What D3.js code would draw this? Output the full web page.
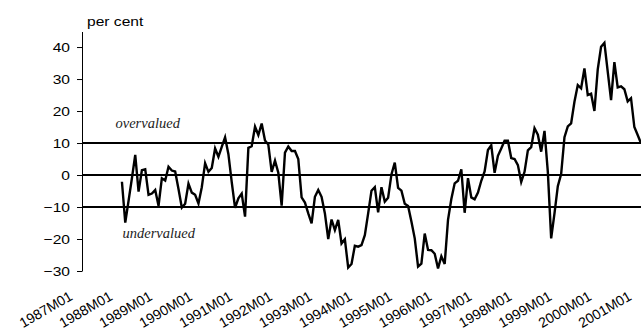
<!DOCTYPE html>
<html><head><meta charset="utf-8">
<script src="https://cdn.jsdelivr.net/npm/d3@7"></script>
<style>
html,body{margin:0;padding:0;background:#fff;}
svg{display:block;}
</style>
</head><body>
<svg id="chart" width="641" height="332"></svg>
<script>
// Data: monthly values, per cent, starting 1988M01
const startMonth = "1988M01";
const values = [
  -2.1, -14.9, -8, -1, 6.3, -5.2, 1.5, 1.8, -6.2, -5.8, -4.7, -9.6,
  -1, -1.7, 2.6, 1.4, 1.1, -4.4, -10.2, -9, -2.7, -5.5, -6.2, -8.9,
  -3.8, 3.7, 1, 2.2, 8.3, 5.7, 8.8, 11.8, 6.5, -2.2, -10.3, -7.3,
  -5.8, -13, 8.5, 9, 15.1, 12.5, 16.1, 10.8, 9.5, 1, 4.5, 0.7,
  -9.6, 7, 8.9, 7.5, 7.5, 5, -7, -8.6, -12, -15.1, -6.8, -4.7,
  -6.8, -12, -20, -13.9, -17.2, -14, -21.4, -20.1, -28.9, -27.8, -22.1, -22.4,
  -21.9, -18.8, -12, -4.9, -3.8, -11.7, -3.8, -8.3, -7.1, 0.2, 3.9, -4,
  -4.9, -9, -9.7, -14.5, -19.8, -28.6, -27.7, -18.3, -23.4, -23.5, -24.6, -29.2,
  -25.4, -27.8, -14, -7.5, -2.6, -1.8, 1.8, -11.8, -1, -7, -7.6, -5.5,
  -1.8, 1.1, 7.8, 9.3, 0.7, 6, 8.3, 10.7, 10.7, 5.3, 5, 3.1,
  -2.2, 1, 7.7, 8.7, 14.6, 12.6, 7.3, 13.8, 1, -19.8, -12, -3.5,
  0.3, 11.8, 15.2, 16.1, 22.9, 28.1, 27.1, 33.3, 25, 25.4, 20, 33,
  40.1, 41.3, 32.3, 23.4, 35.3, 27.4, 27.7, 26.8, 23, 24, 15, 12.5,
  9.9
];
const xTickLabels = ["1987M01","1988M01","1989M01","1990M01","1991M01","1992M01","1993M01",
  "1994M01","1995M01","1996M01","1997M01","1998M01","1999M01","2000M01","2001M01"];
const yTicks = [-30, -20, -10, 0, 10, 20, 30, 40];
const refLines = [10, 0, -10];
const unitLabel = "per cent";
const zoneLabels = [{text: "overvalued", v: 14.8}, {text: "undervalued", v: -19.7}];

// category list built from the month labels
function monthIndex(lbl){ return (+lbl.slice(0,4) - 1987) * 12 + (+lbl.slice(5) - 1); }
const startIdx = monthIndex(startMonth);
const data = values.map((v,i) => ({idx: startIdx + i, v}));

const svg = d3.select("#chart");
const mLeft = 82, mRight = 641, mTop = 32, mBottom = 271;

const x = d3.scaleLinear().domain([0, monthIndex("2001M01")]).range([mLeft, mRight]);
const y = d3.scaleLinear().domain([-30, 44.7]).range([mBottom, mTop]);

// y axis
const yAxis = d3.axisLeft(y).tickValues(yTicks).tickSize(5).tickSizeOuter(0).tickFormat(d3.format("d"));
const gy = svg.append("g").attr("transform", `translate(${mLeft},0)`).call(yAxis);
gy.select(".domain").attr("stroke", "#000").attr("stroke-width", 1).attr("d", `M0.5,${mTop}V${mBottom}`);
gy.selectAll(".tick line").attr("stroke", "#000").attr("x1", 0.5);
gy.selectAll(".tick text")
  .attr("font-family", "Liberation Sans, Arial, sans-serif")
  .attr("font-size", 13)
  .attr("fill", "#000")
  .attr("x", -10)
  .attr("dy", "0.36em")
  .attr("transform", "scale(1.2,1)");

// reference lines
svg.append("g").selectAll("line").data(refLines).join("line")
  .attr("x1", mLeft).attr("x2", mRight)
  .attr("y1", d => y(d)).attr("y2", d => y(d))
  .attr("stroke", "#000").attr("stroke-width", 2);

// x labels (rotated)
svg.append("g").selectAll("text").data(xTickLabels).join("text")
  .attr("transform", d => `translate(${x(monthIndex(d)) - 8.5},${299}) rotate(-30)`)
  .attr("text-anchor", "end")
  .attr("font-family", "Liberation Sans, Arial, sans-serif")
  .attr("font-size", 14)
  .attr("fill", "#000")
  .text(d => d);

// unit label
svg.append("text")
  .attr("transform", `translate(${mLeft + 5},26) scale(1.2,1)`)
  .attr("font-family", "Liberation Sans, Arial, sans-serif")
  .attr("font-size", 13)
  .attr("fill", "#000")
  .text(unitLabel);

// zone labels
svg.append("g").selectAll("text").data(zoneLabels).join("text")
  .attr("x", (d,i) => i === 0 ? 115.5 : 122.5)
  .attr("y", d => y(d.v))
  .attr("font-family", "Liberation Serif, Times New Roman, serif")
  .attr("font-style", "italic")
  .attr("font-size", 14.5)
  .attr("fill", "#222")
  .text(d => d.text);

// data line
const line = d3.line().x(d => x(d.idx)).y(d => y(d.v));
svg.append("path").datum(data)
  .attr("d", line)
  .attr("fill", "none")
  .attr("stroke", "#000")
  .attr("stroke-width", 2.4)
  .attr("stroke-linejoin", "miter");
</script>
</body></html>
